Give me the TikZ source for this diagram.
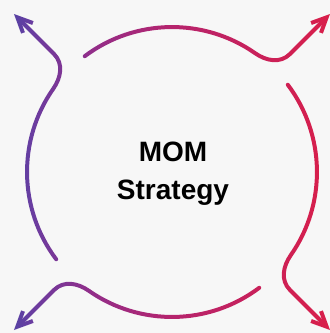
\documentclass[tikz,border=0pt]{standalone}
\usepackage{fontspec}
\setmainfont{Liberation Sans}
\usepackage{tikz}
\usetikzlibrary{arrows.meta,fadings}
\pgfdeclarelayer{edgelayer}
\pgfdeclarelayer{nodelayer}
\pgfsetlayers{edgelayer,nodelayer,main}
\definecolor{paper}{RGB}{247,247,247}
\pgfdeclarehorizontalshading{ringshade}{100bp}{rgb(0bp)=(0.29,0.27,0.65); rgb(25bp)=(0.29,0.27,0.65); rgb(29.4bp)=(0.41,0.24,0.63); rgb(38.1bp)=(0.57,0.18,0.54); rgb(49.7bp)=(0.71,0.14,0.43); rgb(73bp)=(0.85,0.12,0.29); rgb(75bp)=(0.85,0.12,0.29); rgb(100bp)=(0.85,0.12,0.29)}
\tikzstyle{none} = []
\tikzstyle{ring edge}=[draw=white, line width=4pt, line cap=round, line join=round, -{Straight Barb[length=15pt, width=14pt]}]
\tikzstyle{title text}=[font=\fontsize{28}{38}\selectfont\bfseries, align=center, text=black]

\begin{tikzfadingfrompicture}[name=ringfade, x=1pt, y=1pt]
	\path (-172, -172) rectangle (172, 172);
	\node [style=none] (0) at (-87.26, 115.8) {};
	\node [style=none] (1) at (83.17, 118.78) {};
	\node [style=none] (2) at (118, 118) {};
	\node [style=none] (3) at (158, 158) {};
	\node [style=none] (4) at (115.8, 87.26) {};
	\node [style=none] (5) at (118.78, -83.17) {};
	\node [style=none] (6) at (118, -118) {};
	\node [style=none] (7) at (158, -158) {};
	\node [style=none] (8) at (87.26, -115.8) {};
	\node [style=none] (9) at (-83.17, -118.78) {};
	\node [style=none] (10) at (-118, -118) {};
	\node [style=none] (11) at (-158, -158) {};
	\node [style=none] (12) at (-115.8, -87.26) {};
	\node [style=none] (13) at (-118.78, 83.17) {};
	\node [style=none] (14) at (-118, 118) {};
	\node [style=none] (15) at (-158, 158) {};
	\draw [style=ring edge] (0.center) to [out=37, in=145, looseness=0.94] (1.center) to [out=-35, in=225] (2.center) to (3.center);
	\draw [style=ring edge] (4.center) to [out=-53, in=55, looseness=0.94] (5.center) to [out=-125, in=135] (6.center) to (7.center);
	\draw [style=ring edge] (8.center) to [out=-143, in=-35, looseness=0.94] (9.center) to [out=145, in=45] (10.center) to (11.center);
	\draw [style=ring edge] (12.center) to [out=127, in=235, looseness=0.94] (13.center) to [out=55, in=-45] (14.center) to (15.center);
\end{tikzfadingfrompicture}

\begin{document}
\begin{tikzpicture}[x=1pt, y=1pt]
	\useasboundingbox (-172, -161) rectangle (158, 172);
	\begin{pgfonlayer}{nodelayer}
		\node [style=title text] (16) at (1, -2) {MOM\\Strategy};
	\end{pgfonlayer}
	\begin{pgfonlayer}{edgelayer}
		\fill [paper] (-172, -161) rectangle (158, 172);
		\shade [shading=ringshade, path fading=ringfade, fit fading=false] (-172, -172) rectangle (172, 172);
	\end{pgfonlayer}
\end{tikzpicture}
\end{document}
